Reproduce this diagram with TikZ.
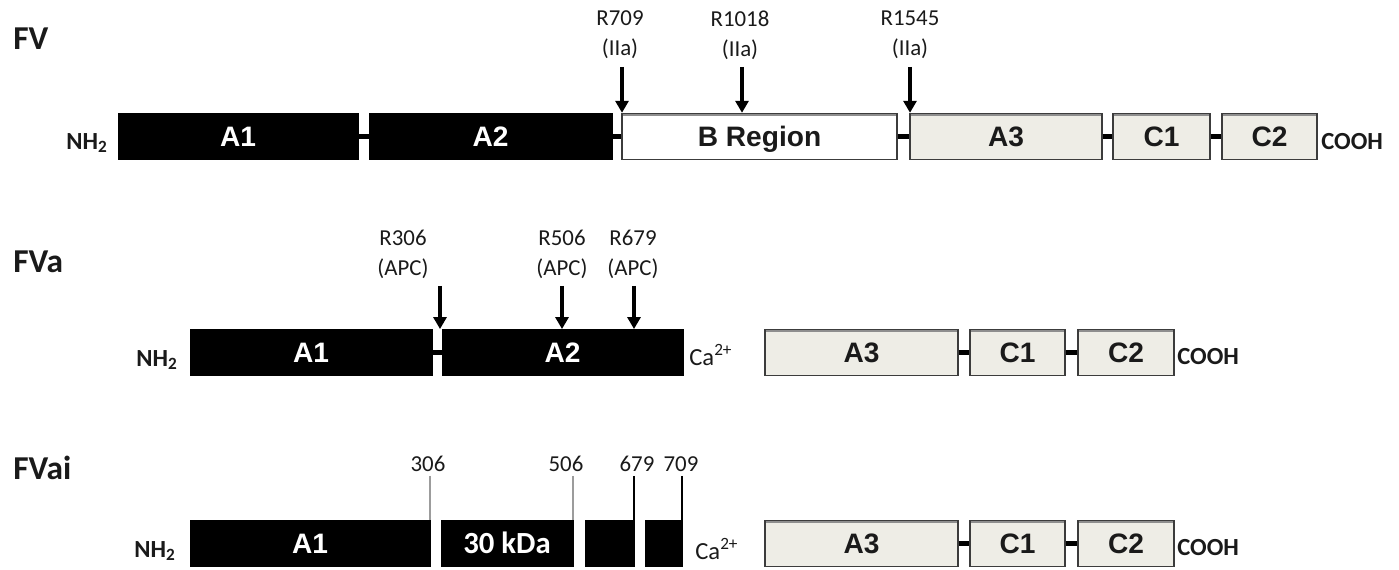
\documentclass[tikz,border=0pt]{standalone}
\usepackage{fontspec}
\setmainfont{Carlito}
\newfontfamily\domfont{Liberation Sans}
\usetikzlibrary{arrows.meta,positioning}
\definecolor{Ink}{HTML}{1A1A1A}
\definecolor{Muted}{HTML}{3C3C3C}
\definecolor{Pale}{HTML}{EEEDE6}
\definecolor{Edge}{HTML}{8E8E8E}
\definecolor{Tick}{HTML}{9C9C9C}
\tikzset{
  heavy/.style={draw=black,fill=black,text=white,line width=.5pt,minimum height=.92cm,inner sep=0pt,text height=11.6pt,text depth=0pt,font=\domfont\bfseries\fontsize{16}{18}\selectfont},
  pale/.style={draw=Muted,fill=Pale,text=Ink,line width=.8pt,minimum height=.92cm,inner sep=0pt,text height=11.6pt,text depth=0pt,font=\domfont\bfseries\fontsize{16}{18}\selectfont,
    path picture={\draw[Edge,line width=3pt] (path picture bounding box.north west) -- (path picture bounding box.north east);}},
  breg/.style={pale,fill=white},
  title/.style={font=\bfseries\fontsize{19}{21}\selectfont,text=Ink,anchor=west,inner sep=0pt},
  term/.style={font=\bfseries\fontsize{14}{16}\selectfont,text=Ink,inner sep=0pt},
  ion/.style={font=\fontsize{14}{16}\selectfont,text=Ink,inner sep=0pt,anchor=west},
  site/.style={font=\fontsize{13}{17}\selectfont,text=Ink,align=center,inner sep=0pt},
  num/.style={font=\fontsize{13}{15}\selectfont,text=Ink,inner sep=0pt},
  link/.style={draw=black,line width=3pt},
  cut/.style={-{Triangle[length=.24cm,width=.26cm]},draw=black,line width=1.8pt},
  tickg/.style={draw=Tick,line width=1.5pt},
  tickb/.style={draw=black,line width=1.2pt}
}
\begin{document}
\begin{tikzpicture}[x=.02cm,y=-.02cm]
  \useasboundingbox (0,0) rectangle (1399,570);
  % FV
  \node[title] (tFV) at (13,39) {FV};
  \node[heavy,minimum width=4.8cm] (fvA1) at (238,136.5) {A1};
  \node[heavy,minimum width=4.86cm] (fvA2) at (490.5,136.5) {A2};
  \node[breg,minimum width=5.5cm] (fvB) at (759.5,136.5) {B Region};
  \node[pale,minimum width=3.84cm] (fvA3) at (1006,136.5) {A3};
  \node[pale,minimum width=1.94cm] (fvC1) at (1161.5,136.5) {C1};
  \node[pale,minimum width=1.9cm] (fvC2) at (1269.5,136.5) {C2};
  \node[term,anchor=east] (fvN) at (108,143) {NH\textsubscript{2}};
  \node[term,anchor=west] (fvCOOH) at (1321,142) {COOH};
  \draw[link] (fvA1) -- (fvA2);
  \draw[link] (fvA2) -- (fvB);
  \draw[link] (fvB) -- (fvA3);
  \draw[link] (fvA3) -- (fvC1);
  \draw[link] (fvC1) -- (fvC2);
  \node[site] (sR709) at (620,35) {R709\\(IIa)};
  \node[site] (sR1018) at (740,35) {R1018\\(IIa)};
  \node[site] (sR1545) at (910,35) {R1545\\(IIa)};
  \coordinate (c709) at (622,67);
  \coordinate (c1018) at (742,67);
  \coordinate (c1545) at (910,67);
  \draw[cut] (c709) -- (c709 |- fvB.north);
  \draw[cut] (c1018) -- (c1018 |- fvB.north);
  \draw[cut] (c1545) -- (c1545 |- fvA3.north);
  % FVa
  \node[title] (tFVa) at (13,262) {FVa};
  \node[heavy,minimum width=4.84cm] (fvaA1) at (311,352.5) {A1};
  \node[heavy,minimum width=4.82cm] (fvaA2) at (562.5,352.5) {A2};
  \node[pale,minimum width=3.86cm] (fvaA3) at (861.5,352.5) {A3};
  \node[pale,minimum width=1.9cm] (fvaC1) at (1017.5,352.5) {C1};
  \node[pale,minimum width=1.92cm] (fvaC2) at (1126,352.5) {C2};
  \node[term,anchor=east] (fvaN) at (178,360) {NH\textsubscript{2}};
  \node[ion] (fvaCa) at (689,355) {Ca\textsuperscript{2+}};
  \node[term,anchor=west] (fvaCOOH) at (1177,357) {COOH};
  \draw[link] (fvaA1) -- (fvaA2);
  \draw[link] (fvaA3) -- (fvaC1);
  \draw[link] (fvaC1) -- (fvaC2);
  \node[site] (sR306) at (403,254) {R306\\(APC)};
  \node[site] (sR506) at (562,254) {R506\\(APC)};
  \node[site] (sR679) at (633,254) {R679\\(APC)};
  \coordinate (c306) at (440,286);
  \coordinate (c506) at (562,286);
  \coordinate (c679) at (634,286);
  \draw[cut] (c306) -- (c306 |- fvaA2.north);
  \draw[cut] (c506) -- (c506 |- fvaA2.north);
  \draw[cut] (c679) -- (c679 |- fvaA2.north);
  % FVai
  \node[title] (tFVai) at (13,468) {FVai};
  \node[heavy,minimum width=4.8cm] (fvaiA1) at (310,543.5) {A1};
  \node[heavy,minimum width=2.64cm,font=\bfseries\fontsize{17.5}{19}\selectfont] (fvaiK) at (507,543.5) {30 kDa};
  \node[heavy,minimum width=.98cm] (fvaiP) at (609.5,543.5) {};
  \node[heavy,minimum width=.74cm] (fvaiQ) at (663.5,543.5) {};
  \node[pale,minimum width=3.86cm] (fvaiA3) at (861.5,543.5) {A3};
  \node[pale,minimum width=1.9cm] (fvaiC1) at (1017.5,543.5) {C1};
  \node[pale,minimum width=1.92cm] (fvaiC2) at (1126,543.5) {C2};
  \node[term,anchor=east] (fvaiN) at (176,551) {NH\textsubscript{2}};
  \node[ion] (fvaiCa) at (695,549) {Ca\textsuperscript{2+}};
  \node[term,anchor=west] (fvaiCOOH) at (1177,548) {COOH};
  \draw[link] (fvaiA3) -- (fvaiC1);
  \draw[link] (fvaiC1) -- (fvaiC2);
  \node[num] (n306) at (428,464) {306};
  \node[num] (n506) at (566,464) {506};
  \node[num] (n679) at (637,464) {679};
  \node[num] (n709) at (681,464) {709};
  \coordinate (k306) at (430,476);
  \coordinate (k506) at (573,476);
  \coordinate (k679) at (634,476);
  \coordinate (k709) at (682,476);
  \draw[tickg] (k306) -- (k306 |- fvaiA1.north);
  \draw[tickg] (k506) -- (k506 |- fvaiK.north);
  \draw[tickb] (k679) -- (k679 |- fvaiP.north);
  \draw[tickb] (k709) -- (k709 |- fvaiQ.north);
\end{tikzpicture}
\end{document}
